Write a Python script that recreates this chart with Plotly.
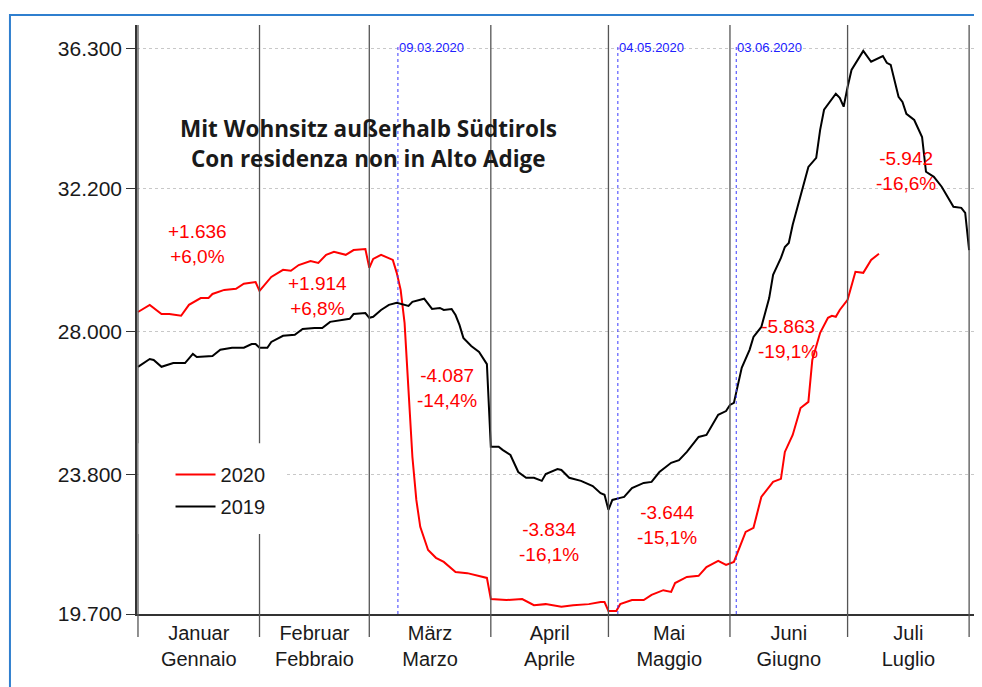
import plotly.graph_objects as go

# x values are day offsets from 1 January (non-leap calendar, Jan 1 = 0)
DAYS_2020 = [0, 3, 6, 8, 11, 13, 16, 18, 19, 22, 25, 27, 30, 31, 34, 37, 39, 41, 44, 46,
             48, 50, 53, 55, 58, 59, 60, 62, 65, 66, 67, 68, 69, 70, 71, 72, 74, 76, 78, 81,
             84, 89, 90, 94, 98, 101, 104, 108, 111, 115, 118, 119, 120, 122, 123, 126, 129, 131, 134, 136,
             137, 140, 143, 145, 148, 150, 152, 154, 155, 157, 158, 159, 162, 164, 165, 167, 169, 171, 172, 174,
             176, 177, 178, 179, 181, 182, 183, 185, 187, 189]
VALUES_2020 = [28570, 28780, 28510, 28510, 28460, 28780, 28980, 28980, 29100, 29220,
               29250, 29400, 29450, 29190, 29600, 29810, 29780, 29950, 30070, 30010,
               30250, 30340, 30250, 30390, 30420, 29870, 30130, 30250, 30100, 29720,
               29220, 28250, 26280, 24310, 23050, 22260, 21580, 21350, 21230, 20930,
               20900, 20760, 20140, 20110, 20140, 19960, 19990, 19910, 19960, 19990,
               20050, 20050, 19790, 19790, 19990, 20110, 20110, 20260, 20400, 20350,
               20610, 20790, 20820, 21080, 21260, 21140, 21230, 21790, 22110, 22230,
               22700, 23140, 23580, 23670, 24460, 24960, 25750, 25930, 27160, 27960,
               28400, 28460, 28430, 28630, 28930, 29310, 29750, 29720, 30100, 30280]

DAYS_2019 = [0, 3, 4, 6, 9, 12, 14, 15, 19, 21, 24, 27, 29, 30, 31, 33, 34, 37, 40, 42,
             45, 47, 49, 52, 54, 55, 58, 59, 60, 62, 64, 66, 69, 70, 73, 75, 77, 78, 80, 81,
             82, 83, 85, 87, 89, 90, 92, 93, 95, 97, 99, 101, 103, 104, 107, 108, 110, 113, 116, 118,
             119, 120, 121, 123, 124, 126, 129, 131, 133, 136, 138, 140, 143, 145, 148, 150, 151, 152, 153, 154,
             156, 157, 159, 160, 161, 162, 164, 165, 166, 167, 169, 171, 173, 174, 175, 178, 179, 180, 181, 182,
             185, 187, 190, 191, 192, 194, 195, 196, 198, 200, 201, 203, 205, 208, 210, 211, 212]
VALUES_2019 = [26960, 27190, 27160, 26960, 27070, 27070, 27340, 27250, 27280, 27460,
               27520, 27520, 27630, 27630, 27520, 27520, 27690, 27870, 27900, 28070,
               28100, 28100, 28280, 28340, 28370, 28510, 28540, 28400, 28430, 28630,
               28780, 28840, 28750, 28870, 28960, 28660, 28690, 28630, 28660, 28480,
               28190, 27810, 27570, 27400, 27040, 24610, 24610, 24520, 24370, 23870,
               23700, 23700, 23610, 23810, 23960, 23930, 23700, 23610, 23460, 23250,
               23200, 22760, 23050, 23110, 23140, 23400, 23550, 23580, 23870, 24140,
               24220, 24460, 24900, 24960, 25550, 25660, 25840, 25900, 26430, 26930,
               27460, 27840, 28130, 28570, 28980, 29660, 30160, 30480, 30600, 31130,
               31950, 32830, 33100, 33920, 34510, 34980, 34860, 34600, 35180, 35680,
               36240, 35920, 36090, 35890, 35830, 34890, 34740, 34390, 34210, 33710,
               32690, 32540, 32250, 31660, 31630, 31480, 30390]

MONTH_STARTS = [0, 31, 59, 90, 120, 151, 181, 212]
MONTH_LABELS = ["Januar<br>Gennaio", "Februar<br>Febbraio", "März<br>Marzo", "April<br>Aprile",
                "Mai<br>Maggio", "Juni<br>Giugno", "Juli<br>Luglio"]

Y_TICKS = [19700, 23800, 28000, 32200, 36300]

EVENT_DAYS = [66.3, 122.4, 152.6]
EVENT_LABELS = ["09.03.2020", "04.05.2020", "03.06.2020"]

DIFF_LABELS = ["+1.636<br>+6,0%", "+1.914<br>+6,8%", "-4.087<br>-14,4%", "-3.834<br>-16,1%",
               "-3.644<br>-15,1%", "-5.863<br>-19,1%", "-5.942<br>-16,6%"]
DIFF_X = [15.1, 45.9, 78.8, 104.8, 134.9, 165.8, 195.9]
DIFF_Y = [30570, 29040, 26340, 21815, 22300, 27780, 32700]

TITLE_LINES = ["Mit Wohnsitz außerhalb Südtirols", "Con residenza non in Alto Adige"]

fig = go.Figure()
fig.add_trace(go.Scatter(x=DAYS_2020, y=VALUES_2020, mode="lines", name="2020",
                         legendgroup="a", line=dict(color="#ff0000", width=2)))
fig.add_trace(go.Scatter(x=DAYS_2019, y=VALUES_2019, mode="lines", name="2019",
                         legendgroup="b", line=dict(color="#000000", width=2)))

shapes = []
for d in MONTH_STARTS:
    shapes.append(dict(type="line", xref="x", yref="paper", x0=d, x1=d, y0=-0.039, y1=1,
                       line=dict(color="#555555", width=1.3), layer="above"))
for d in EVENT_DAYS:
    shapes.append(dict(type="line", xref="x", yref="paper", x0=d, x1=d, y0=0, y1=0.965,
                       line=dict(color="#3a3aff", width=1, dash="dot"), layer="above"))
# white patch behind the legend
shapes.append(dict(type="rect", xref="paper", yref="paper", x0=0.002, x1=0.179, y0=0.136, y1=0.29,
                   fillcolor="white", line=dict(width=0), layer="above"))
# blue frame around the graphic
shapes.append(dict(type="rect", xref="paper", yref="paper", x0=-0.1516, x1=1.3, y0=-0.4, y1=1.017,
                   line=dict(color="#2f7fcf", width=2), fillcolor="rgba(0,0,0,0)"))

annotations = []
for d, lab in zip(EVENT_DAYS, EVENT_LABELS):
    annotations.append(dict(x=d, y=0.9626, xref="x", yref="paper", text=lab, showarrow=False,
                            xanchor="left", yanchor="middle", xshift=-1,
                            font=dict(size=13, color="#2020ff", family="Liberation Sans")))
for t, x, y in zip(DIFF_LABELS, DIFF_X, DIFF_Y):
    annotations.append(dict(x=x, y=y, text=t, showarrow=False, xanchor="center",
                            font=dict(size=19, color="#ff0000", family="Liberation Sans")))
for t, yp in zip(TITLE_LINES, [0.825, 0.774]):
    annotations.append(dict(x=0.2757, y=yp, xref="paper", yref="paper", text="<b>" + t + "</b>",
                            showarrow=False, xanchor="center", yanchor="middle",
                            font=dict(size=22.5, color="#1a1a1a", family="Open Sans")))

fig.update_layout(
    width=974, height=679,
    margin=dict(l=129, r=7, t=17, b=73),
    paper_bgcolor="white", plot_bgcolor="white",
    separators=",.",
    font=dict(family="Liberation Sans", size=20, color="#1a1a1a"),
    shapes=shapes,
    annotations=annotations,
    showlegend=True,
    legend=dict(x=0.04, y=0.27, xanchor="left", yanchor="top", bgcolor="rgba(0,0,0,0)",
                font=dict(size=20, color="#1a1a1a"), traceorder="grouped", tracegroupgap=3,
                itemwidth=40),
    xaxis=dict(range=[-0.25, 213.5], tickmode="array",
               tickvals=[(a + b) / 2 for a, b in zip(MONTH_STARTS[:-1], MONTH_STARTS[1:])],
               ticktext=MONTH_LABELS, ticks="", showgrid=False, zeroline=False,
               showline=True, linecolor="#333333", linewidth=1.5,
               tickfont=dict(size=20, color="#1a1a1a")),
    yaxis=dict(range=[19700, 37000], tickmode="array", tickvals=Y_TICKS, tickformat=",d",
               ticks="outside", ticklen=9, tickcolor="#333333", showline=True,
               linecolor="#333333", linewidth=1.5, zeroline=False,
               showgrid=True, gridcolor="#c8c8c8", griddash="dot", gridwidth=1,
               tickfont=dict(size=21, color="#1a1a1a")),
)

fig.write_html("out.html")
